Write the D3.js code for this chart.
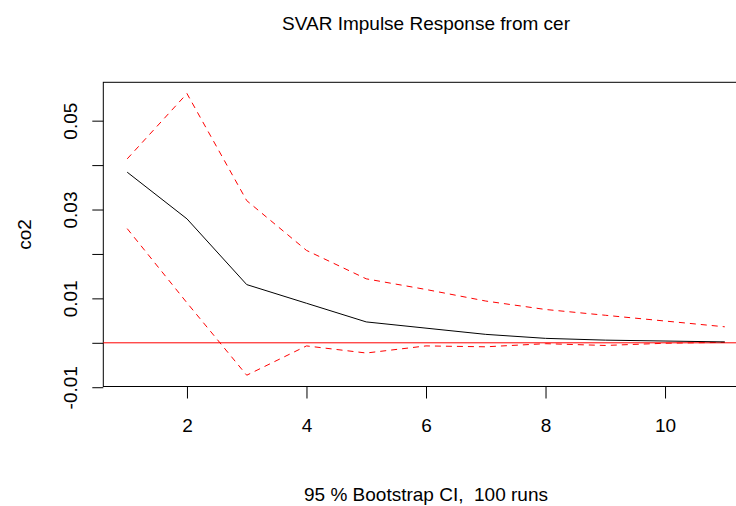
<!DOCTYPE html>
<html>
<head>
<meta charset="utf-8">
<script src="https://cdn.jsdelivr.net/npm/d3@7"></script>
<style>
  body { margin: 0; background: #fff; }
  svg { display: block; font-family: "Liberation Sans", Arial, sans-serif; }
</style>
</head>
<body>
<svg id="chart" width="736" height="506"></svg>
<script>
// horizon steps and the impulse response with its bootstrap band
var steps = [1, 2, 3, 4, 5, 6, 7, 8, 9, 10, 11]
var irf   = [0.0384, 0.0279, 0.0131, 0.0089, 0.0047, 0.0033, 0.0019, 0.0010, 0.0006, 0.0004, 0.0002]
var upper = [0.0414, 0.0561, 0.0320, 0.0208, 0.0144, 0.0120, 0.0094, 0.0075, 0.0062, 0.0049, 0.0036]
var lower = [0.0257, 0.0090, -0.0073, -0.0007, -0.0023, -0.0007, -0.0009, -0.0002, -0.0006, -0.0001, 0.0001]

var xTicks = [2, 4, 6, 8, 10]
var yTicks = [-0.01, 0, 0.01, 0.02, 0.03, 0.04, 0.05]
var yLabels = ["-0.01", "", "0.01", "", "0.03", "", "0.05"]

var title = "SVAR Impulse Response from cer"
var ylab = "co2"
var sub = "95 % Bootstrap CI,  100 runs"

// plot region (right edge runs past the picture, like the original)
var margin = { top: 82.3, left: 103.3 }
var plotW = 645.4, plotH = 304.2

var svg = d3.select('#chart')

// R style 4% axis extension
function extend(ext) {
    var d = (ext[1] - ext[0]) * 0.04
    return [ext[0] - d, ext[1] + d]
}

var x = d3.scaleLinear()
    .domain(extend(d3.extent(steps)))
    .range([margin.left, margin.left + plotW])

var y = d3.scaleLinear()
    .domain(extend(d3.extent(irf.concat(upper, lower))))
    .range([margin.top + plotH, margin.top])

// box
svg.append('rect')
    .attr('x', margin.left)
    .attr('y', margin.top)
    .attr('width', plotW)
    .attr('height', plotH)
    .attr('fill', 'none')
    .attr('stroke', '#000')
    .attr('stroke-width', 1)

// x axis
var gx = svg.append('g')
    .attr('transform', 'translate(0,' + (margin.top + plotH) + ')')
    .call(d3.axisBottom(x).tickValues(xTicks).tickSize(12).tickFormat(d3.format('d')))
gx.select('.domain').remove()
gx.selectAll('line').attr('stroke', '#000')
gx.selectAll('text')
    .attr('y', 45.5)
    .attr('dy', 0)
    .attr('fill', '#000')
    .style('font-size', '19px')
    .style('font-family', '"Liberation Sans", Arial, sans-serif')

// y axis, labels turned like R's las = 0
var gy = svg.append('g')
    .attr('transform', 'translate(' + margin.left + ',0)')
    .call(d3.axisLeft(y).tickValues(yTicks).tickSize(11)
        .tickFormat(function (d, i) { return yLabels[i] }))
gy.select('.domain').remove()
gy.selectAll('line').attr('stroke', '#000')
gy.selectAll('text')
    .attr('transform', 'rotate(-90)')
    .attr('x', 0)
    .attr('y', -26)
    .attr('dy', 0)
    .attr('text-anchor', 'middle')
    .attr('fill', '#000')
    .style('font-size', '19px')
    .style('font-family', '"Liberation Sans", Arial, sans-serif')

// zero line
svg.append('line')
    .attr('x1', margin.left)
    .attr('x2', margin.left + plotW)
    .attr('y1', y(0))
    .attr('y2', y(0))
    .attr('stroke', '#ff0000')
    .attr('stroke-width', 1)

var line = d3.line()
    .x(function (d, i) { return x(steps[i]) })
    .y(function (d) { return y(d) })

// bootstrap band
;[upper, lower].forEach(function (s) {
    svg.append('path')
        .attr('d', line(s))
        .attr('fill', 'none')
        .attr('stroke', '#ff0000')
        .attr('stroke-width', 1)
        .attr('stroke-dasharray', '6,5')
})

svg.append('path')
    .attr('d', line(irf))
    .attr('fill', 'none')
    .attr('stroke', '#000')
    .attr('stroke-width', 1)

// texts
var cx = margin.left + plotW / 2
svg.append('text')
    .attr('x', cx)
    .attr('y', 30)
    .attr('text-anchor', 'middle')
    .style('font-size', '19px')
    .text(title)

svg.append('text')
    .attr('x', cx)
    .attr('y', 501)
    .attr('text-anchor', 'middle')
    .style('font-size', '19px')
    .style('white-space', 'pre')
    .text(sub)

svg.append('text')
    .attr('transform', 'translate(31,' + (margin.top + plotH / 2) + ') rotate(-90)')
    .attr('text-anchor', 'middle')
    .style('font-size', '19px')
    .text(ylab)
</script>
</body>
</html>
